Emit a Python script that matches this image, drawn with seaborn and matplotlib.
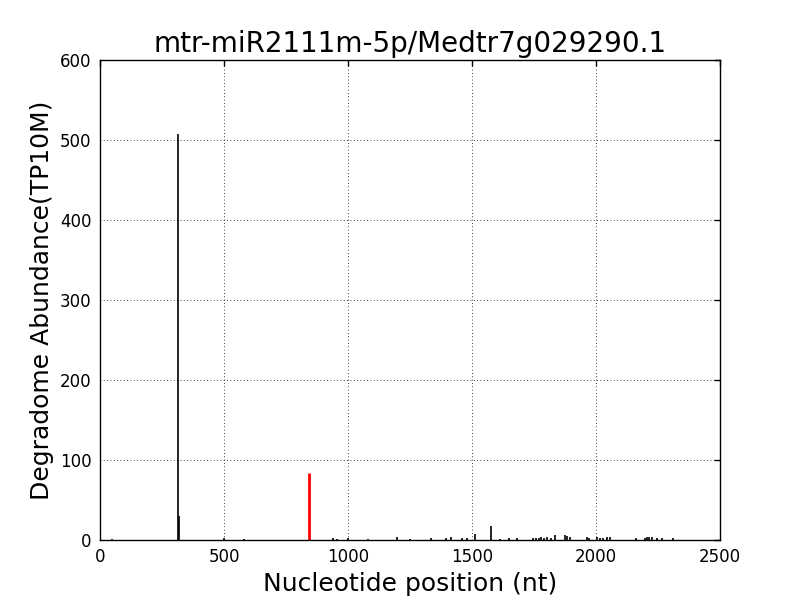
import matplotlib
matplotlib.use("Agg")
import matplotlib.pyplot as plt
import seaborn as sns
import pandas as pd

title = "mtr-miR2111m-5p/Medtr7g029290.1"
xlabel = "Nucleotide position (nt)"
ylabel = "Degradome Abundance(TP10M)"

positions = [50, 314, 318, 500, 581, 940, 956, 998, 1081, 1196, 1250, 1335,
             1395, 1415, 1460, 1480, 1512, 1577, 1613, 1649, 1680, 1747, 1760,
             1770, 1780, 1790, 1801, 1820, 1835, 1875, 1885, 1895, 1962, 1972,
             2004, 2015, 2030, 2045, 2056, 2161, 2197, 2205, 2215, 2226, 2246,
             2266, 2311]
abundance = [1.5, 507, 30, 3, 1, 2, 1.5, 3, 1.5, 3.5, 1, 2, 2, 4, 2, 2, 8,
             17, 1, 2, 2, 3, 3, 3, 4, 3, 4, 3, 6, 6, 5, 4, 4, 2, 4, 3, 3, 4, 4,
             2, 3, 4, 4, 4, 2, 2, 2]

target_pos = [843]
target_abund = [84]

df = pd.DataFrame({"pos": positions, "val": abundance})
tdf = pd.DataFrame({"pos": target_pos, "val": target_abund})

sns.set_style("white")
plt.rcParams["font.family"] = ["DejaVu Sans"]
plt.rcParams["text.color"] = "black"
plt.rcParams["axes.labelcolor"] = "black"

fig = plt.figure(figsize=(8, 6), dpi=100)
ax = fig.add_axes([0.125, 0.1, 0.775, 0.8])

ax.vlines(df["pos"], 0, df["val"], colors="black", linewidth=1.2)
ax.vlines(tdf["pos"], 0, tdf["val"], colors="red", linewidth=2)

ax.set_xlim(0, 2500)
ax.set_ylim(0, 600)
ax.set_xticks([0, 500, 1000, 1500, 2000, 2500])
ax.set_yticks([0, 100, 200, 300, 400, 500, 600])
ax.grid(True, color="black", linestyle=(0, (1, 3)), linewidth=0.6)
ax.set_axisbelow(True)
for s in ax.spines.values():
    s.set_color("black")
    s.set_linewidth(1)
ax.tick_params(direction="in", length=4, width=1, top=True, right=True,
               labelsize=12, colors="black", pad=6)
ax.set_title(title, fontsize=20, color="black")
ax.set_xlabel(xlabel, fontsize=18, color="black")
ax.set_ylabel(ylabel, fontsize=18, color="black")

fig.savefig("out.png", dpi=100)
